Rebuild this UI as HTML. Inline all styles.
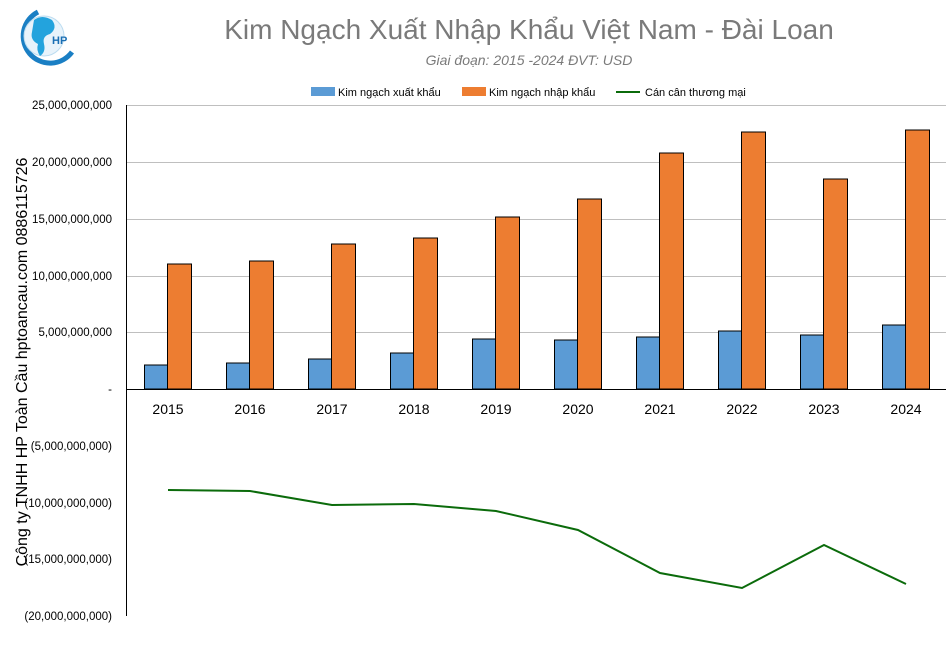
<!DOCTYPE html>
<html><head><meta charset="utf-8"><style>
body{margin:0;background:#fff;width:951px;height:645px;overflow:hidden}
svg text{font-family:"Liberation Sans",sans-serif}
</style></head><body>
<svg width="951" height="645" xmlns="http://www.w3.org/2000/svg">
<!-- logo -->
<g>
<path d="M 38 12 A 27 27 0 1 0 72 52" fill="none" stroke="#1a7fc4" stroke-width="5"/>
<circle cx="44" cy="36" r="20" fill="#e8f3fb" stroke="#bcdcf0"/>
<path d="M34 20 q8-6 18 0 q6 8 -2 14 q-8 2 -6 10 q2 8 -4 12 q-4-6 -2-12 q-8-4 -6-12 z" fill="#23a3dd"/>
<text x="52" y="44" font-size="11" font-weight="bold" fill="#1a6fb4">HP</text>
</g>
<text x="529" y="39" font-size="28" fill="#7a7a7a" text-anchor="middle">Kim Ngạch Xuất Nhập Khẩu Việt Nam - Đài Loan</text>
<text x="529" y="65" font-size="14" font-style="italic" fill="#7a7a7a" text-anchor="middle">Giai đoạn: 2015 -2024  ĐVT: USD</text>
<!-- legend -->
<rect x="311" y="87" width="24" height="9" fill="#5b9bd5"/>
<text x="338" y="96" font-size="11" fill="#000">Kim ngạch xuất khẩu</text>
<rect x="462" y="87" width="24" height="9" fill="#ed7d31"/>
<text x="489" y="96" font-size="11" fill="#000">Kim ngạch nhập khẩu</text>
<line x1="616" y1="92" x2="640" y2="92" stroke="#0b6b0b" stroke-width="2"/>
<text x="645" y="96" font-size="11" fill="#000">Cán cân thương mại</text>
<!-- gridlines -->
<g stroke="#bfbfbf" stroke-width="1">
<line x1="127" y1="105.5" x2="946" y2="105.5"/>
<line x1="127" y1="162.5" x2="946" y2="162.5"/>
<line x1="127" y1="219.5" x2="946" y2="219.5"/>
<line x1="127" y1="276.5" x2="946" y2="276.5"/>
<line x1="127" y1="332.5" x2="946" y2="332.5"/>
</g>
<g font-size="11.5" text-anchor="end" fill="#000">
<text x="112" y="109">25,000,000,000</text>
<text x="112" y="166">20,000,000,000</text>
<text x="112" y="223">15,000,000,000</text>
<text x="112" y="280">10,000,000,000</text>
<text x="112" y="336">5,000,000,000</text>
<text x="112" y="393">-</text>
<text x="112" y="450">(5,000,000,000)</text>
<text x="112" y="507">(10,000,000,000)</text>
<text x="112" y="563">(15,000,000,000)</text>
<text x="112" y="620">(20,000,000,000)</text>
</g>
<text transform="translate(27,362) rotate(-90)" font-size="16" fill="#000" text-anchor="middle">Công ty TNHH HP Toàn Cầu hptoancau.com 0886115726</text>
<!-- bars -->
<g stroke="#000" stroke-width="1">
<rect x="144.5" y="365" width="23" height="24" fill="#5b9bd5"/><rect x="167.5" y="264" width="24" height="125" fill="#ed7d31"/>
<rect x="226.5" y="363" width="23" height="26" fill="#5b9bd5"/><rect x="249.5" y="261" width="24" height="128" fill="#ed7d31"/>
<rect x="308.5" y="359" width="23" height="30" fill="#5b9bd5"/><rect x="331.5" y="244" width="24" height="145" fill="#ed7d31"/>
<rect x="390.5" y="353" width="23" height="36" fill="#5b9bd5"/><rect x="413.5" y="238" width="24" height="151" fill="#ed7d31"/>
<rect x="472.5" y="339" width="23" height="50" fill="#5b9bd5"/><rect x="495.5" y="217" width="24" height="172" fill="#ed7d31"/>
<rect x="554.5" y="340" width="23" height="49" fill="#5b9bd5"/><rect x="577.5" y="199" width="24" height="190" fill="#ed7d31"/>
<rect x="636.5" y="337" width="23" height="52" fill="#5b9bd5"/><rect x="659.5" y="153" width="24" height="236" fill="#ed7d31"/>
<rect x="718.5" y="331" width="23" height="58" fill="#5b9bd5"/><rect x="741.5" y="132" width="24" height="257" fill="#ed7d31"/>
<rect x="800.5" y="335" width="23" height="54" fill="#5b9bd5"/><rect x="823.5" y="179" width="24" height="210" fill="#ed7d31"/>
<rect x="882.5" y="325" width="23" height="64" fill="#5b9bd5"/><rect x="905.5" y="130" width="24" height="259" fill="#ed7d31"/>
</g>
<line x1="126.5" y1="105" x2="126.5" y2="616" stroke="#000"/>
<line x1="126" y1="389.5" x2="946" y2="389.5" stroke="#000"/>
<g font-size="14" text-anchor="middle" fill="#000">
<text x="168" y="414">2015</text><text x="250" y="414">2016</text><text x="332" y="414">2017</text><text x="414" y="414">2018</text><text x="496" y="414">2019</text><text x="578" y="414">2020</text><text x="660" y="414">2021</text><text x="742" y="414">2022</text><text x="824" y="414">2023</text><text x="906" y="414">2024</text>
</g>
<polyline points="168,490 250,491 332,505 414,504 496,511 578,530 660,573 742,588 824,545 906,584" fill="none" stroke="#0b6b0b" stroke-width="2"/>
</svg>
</body></html>
